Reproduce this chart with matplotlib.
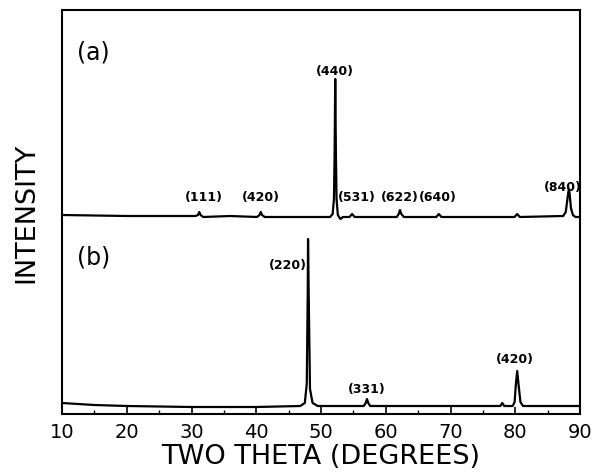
"""
XRD patterns (a) and (b) stacked on one axis.
Intensity in arbitrary units, trace (a) sits above trace (b).
"""

import matplotlib
matplotlib.use("Agg")
import matplotlib.pyplot as plt
from matplotlib.ticker import MultipleLocator

# ── Data ──────────────────────────────────────────────────────────────────────

# trace (a), offset already included
two_theta_a = [10, 20, 30.6, 31.0, 31.2, 31.4, 31.8, 36, 40.1, 40.5, 40.7, 40.9, 41.3,
               46, 51.4, 51.8, 52.0, 52.1, 52.2, 52.3, 52.4, 52.6, 53.0, 53.4,
               54.4, 54.8, 55.2, 58, 61.7, 62.0, 62.2, 62.4, 62.8, 67.8, 68.2, 68.6,
               75, 79.9, 80.3, 80.7, 87.4, 87.8, 88.0, 88.2, 88.3, 88.4, 88.6, 88.9, 89.3, 90]
intensity_a = [199, 198, 198, 199, 202, 199, 197, 198, 197, 199, 202, 199, 197,
               197, 197, 200, 215, 260, 335, 262, 215, 199, 195, 197,
               197, 200, 197, 197, 197, 200, 204, 200, 197, 197, 200, 197,
               197, 197, 200, 197, 198, 202, 212, 222, 225, 220, 206, 199, 197, 197]

# trace (b)
two_theta_b = [10, 15, 20, 30, 40, 46.8, 47.5, 47.8, 47.95, 48.0, 48.1, 48.3, 48.7, 49.5,
               56.6, 56.9, 57.1, 57.3, 57.6, 70, 77.7, 78.0, 78.3,
               79.6, 79.9, 80.1, 80.3, 80.5, 80.8, 81.2, 90]
intensity_b = [11, 9, 8, 7, 7, 8, 11, 30, 120, 175, 120, 25, 11, 8,
               8, 11, 15, 11, 8, 8, 8, 11, 8,
               8, 12, 30, 43, 30, 12, 8, 8]

labels_a = ["(111)", "(420)", "(440)", "(531)", "(622)", "(640)", "(840)"]
label_x_a = [31.9, 40.7, 52.2, 55.6, 62.2, 68.1, 87.4]
label_y_a = [217, 217, 343, 217, 217, 217, 228]

labels_b = ["(220)", "(331)", "(420)"]
label_x_b = [44.9, 57.1, 80.0]
label_y_b = [149, 25, 55]

# ── Plot ──────────────────────────────────────────────────────────────────────
plt.rcParams["font.family"] = ["DejaVu Sans"]

fig = plt.figure(figsize=(5.93, 4.77), dpi=100)
ax = fig.add_axes([62 / 593, 62 / 477, 518 / 593, 404 / 477])

ax.plot(two_theta_a, intensity_a, color="black", linewidth=1.6)
ax.plot(two_theta_b, intensity_b, color="black", linewidth=1.6)

for txt, x, y in zip(labels_a, label_x_a, label_y_a):
    ax.text(x, y, txt, ha="center", va="center", fontsize=9, fontweight="bold")
for txt, x, y in zip(labels_b, label_x_b, label_y_b):
    ax.text(x, y, txt, ha="center", va="center", fontsize=9, fontweight="bold")

ax.text(0.029, 0.898, "(a)", transform=ax.transAxes, fontsize=17, va="center", ha="left")
ax.text(0.029, 0.389, "(b)", transform=ax.transAxes, fontsize=17, va="center", ha="left")

ax.set_xlim(10, 90)
ax.set_ylim(0, 404)
ax.xaxis.set_major_locator(MultipleLocator(10))
ax.xaxis.set_minor_locator(MultipleLocator(5))
ax.tick_params(axis="x", which="major", direction="in", length=5, width=1.2,
               labelsize=14, pad=6)
ax.tick_params(axis="x", which="minor", direction="in", length=3, width=1.0)
ax.set_yticks([])

for s in ax.spines.values():
    s.set_linewidth(1.5)

ax.set_xlabel("TWO THETA (DEGREES)", fontsize=19.5, labelpad=1)
ax.set_ylabel("INTENSITY", fontsize=19.5, labelpad=16)

fig.savefig("out.png", dpi=100)
